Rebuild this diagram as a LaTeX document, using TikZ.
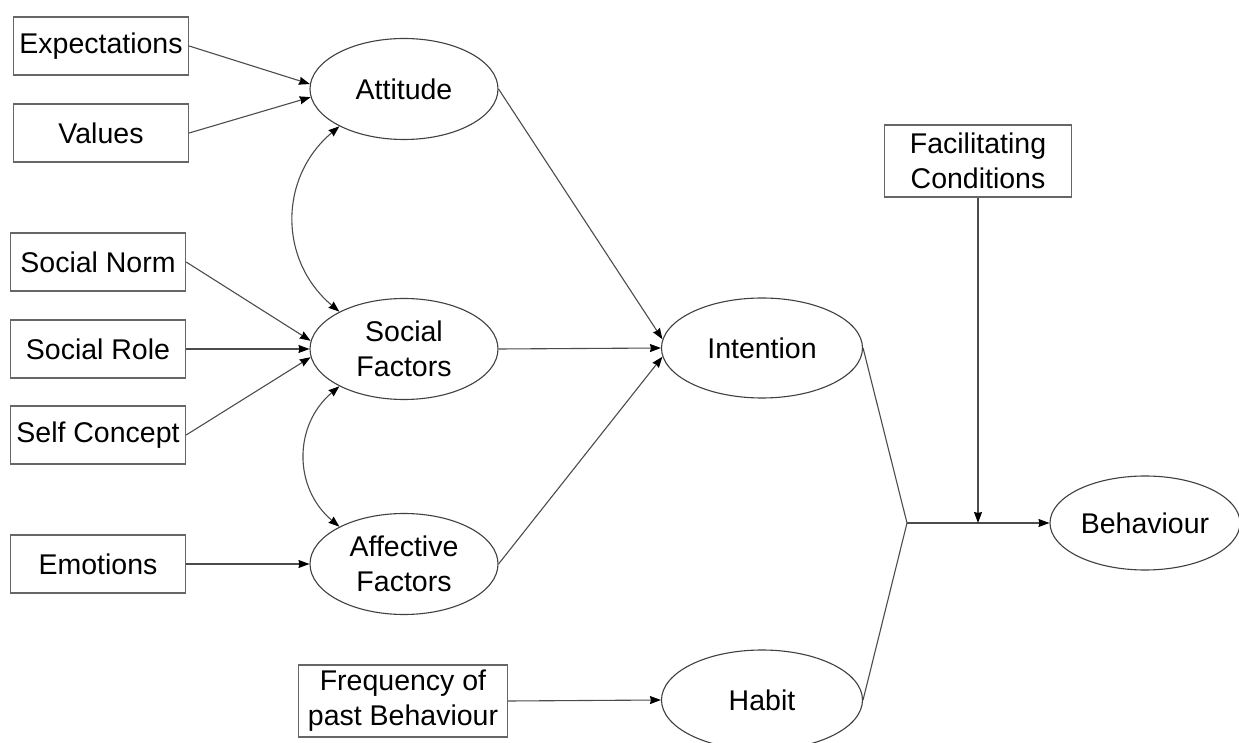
\documentclass[tikz,border=0pt]{standalone}
\usepackage{fontspec}
\setmainfont{Liberation Sans}
\usetikzlibrary{shapes.geometric,arrows.meta,calc}
\begin{document}
\begin{tikzpicture}[x=1pt,y=1pt,
  font=\fontsize{28.5}{35}\selectfont,
  box/.style={draw=black!60,line width=1.3pt,rectangle,inner sep=0pt,align=center,minimum width=175pt,minimum height=58pt},
  oval/.style={draw=black!75,line width=1.1pt,ellipse,inner sep=0pt,align=center,minimum width=188pt,minimum height=101pt},
  arr/.style={draw=black!70,line width=1.1pt,-{Stealth[length=11pt,width=8pt,inset=1pt,black]}},
  darr/.style={draw=black!70,line width=1.1pt,{Stealth[length=11pt,width=8pt,inset=1pt,black]}-{Stealth[length=11pt,width=8pt,inset=1pt,black]}},
  ln/.style={draw=black!70,line width=1.1pt}]
\clip (0,0) rectangle (1239,742);
\fill[white] (0,0) rectangle (1239,742);
% boxes
\node[box] (exp) at (101,696) {Expectations};
\node[box] (val) at (101,609) {Values};
\node[box] (sn) at (98,480) {Social Norm};
\node[box] (sr) at (98,393) {Social Role};
\node[box] (sc) at (98,307) {Self Concept};
\node[box] (emo) at (98,178) {Emotions};
\node[box,minimum width=209pt,minimum height=72pt] (freq) at (403,41) {Frequency of\\past Behaviour};
\node[box,minimum width=187pt,minimum height=72pt] (fac) at (978,581) {Facilitating\\Conditions};
% ellipses
\node[oval] (att) at (404,653) {Attitude};
\node[oval] (soc) at (404,393) {Social\\Factors};
\node[oval] (aff) at (404,178) {Affective\\Factors};
\node[oval,minimum width=201pt,minimum height=100pt] (int) at (762,394) {Intention};
\node[oval,minimum width=201pt,minimum height=100pt] (hab) at (762,42) {Habit};
\node[oval,minimum width=190pt,minimum height=94pt] (beh) at (1145,219) {Behaviour};
\coordinate (J) at (907,219);
\coordinate (K) at (fac.south |- J);
% arrows
\draw[arr] (exp.east) -- (att.177);
\draw[arr] (val.east) -- (att.185);
\draw[arr] (sn.east) -- (soc.175);
\draw[arr] (sr.east) -- (soc.180);
\draw[arr] (sc.east) -- (soc.185);
\draw[arr] (emo.east) -- (aff.180);
\draw[arr] (freq.east) -- (hab.west);
\draw[darr] (att.210) to[out=220,in=140,looseness=1.1] (soc.150);
\draw[darr] (soc.210) to[out=220,in=140,looseness=1.1] (aff.150);
\draw[arr] (att.east) -- (int.175);
\draw[arr] (soc.east) -- (int.180);
\draw[arr] (aff.east) -- (int.185);
\draw[ln] (int.east) -- (J);
\draw[ln] (hab.east) -- (J);
\draw[arr] (J) -- (beh.west);
\draw[arr] (fac.south) -- (K);
\end{tikzpicture}
\end{document}
